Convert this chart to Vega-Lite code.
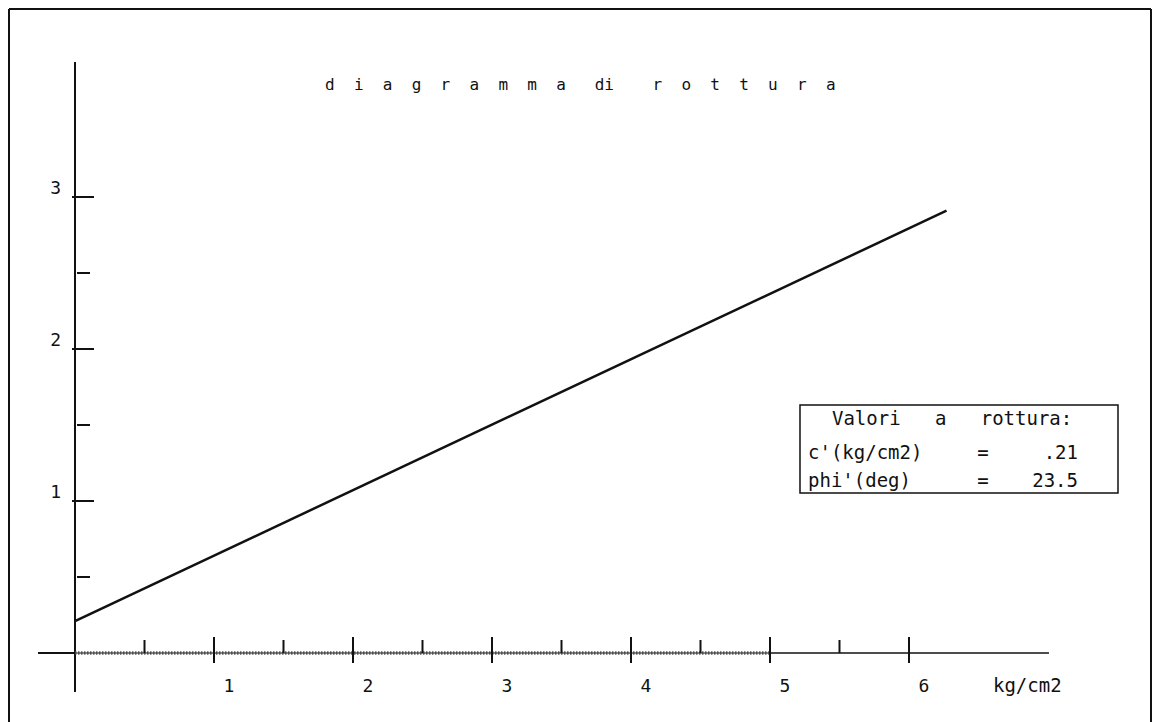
{
  "$schema": "https://vega.github.io/schema/vega-lite/v6.json",
  "width": 1160,
  "height": 722,
  "padding": 0,
  "autosize": {"type": "none"},
  "background": "#ffffff",
  "config": {
    "view": {"stroke": null},
    "text": {"font": "DejaVu Sans Mono", "fontSize": 18, "color": "#111111"},
    "rule": {"color": "#111111"},
    "tick": {"color": "#111111"},
    "line": {"color": "#111111"}
  },
  "datasets": {
    "ticks": [
      {"axis": "x", "kind": "minor", "v": 0.5, "label": ""},
      {"axis": "x", "kind": "major", "v": 1, "label": "1"},
      {"axis": "x", "kind": "minor", "v": 1.5, "label": ""},
      {"axis": "x", "kind": "major", "v": 2, "label": "2"},
      {"axis": "x", "kind": "minor", "v": 2.5, "label": ""},
      {"axis": "x", "kind": "major", "v": 3, "label": "3"},
      {"axis": "x", "kind": "minor", "v": 3.5, "label": ""},
      {"axis": "x", "kind": "major", "v": 4, "label": "4"},
      {"axis": "x", "kind": "minor", "v": 4.5, "label": ""},
      {"axis": "x", "kind": "major", "v": 5, "label": "5"},
      {"axis": "x", "kind": "minor", "v": 5.5, "label": ""},
      {"axis": "x", "kind": "major", "v": 6, "label": "6"},
      {"axis": "y", "kind": "minor", "v": 0.5, "label": ""},
      {"axis": "y", "kind": "major", "v": 1, "label": "1"},
      {"axis": "y", "kind": "minor", "v": 1.5, "label": ""},
      {"axis": "y", "kind": "major", "v": 2, "label": "2"},
      {"axis": "y", "kind": "minor", "v": 2.5, "label": ""},
      {"axis": "y", "kind": "major", "v": 3, "label": "3"}
    ],
    "envelope": [
      {"sigma": 0, "tau": 0.21},
      {"sigma": 6.27, "tau": 2.91}
    ]
  },
  "layer": [
    {
      "data": {"values": [{}]},
      "mark": {"type": "rule", "strokeWidth": 2},
      "encoding": {
        "x": {"datum": -0.4748, "type": "quantitative", "scale": {"domain": [-0.5396, 7.8058], "nice": false, "zero": false}, "axis": null},
        "y": {"datum": -0.454, "type": "quantitative", "scale": {"domain": [-0.454, 4.2961], "nice": false, "zero": false}, "axis": null},
        "y2": {"datum": 4.2368}
      }
    },
    {
      "data": {"values": [{}]},
      "mark": {"type": "rule", "strokeWidth": 2},
      "encoding": {
        "x": {"datum": -0.4748, "type": "quantitative", "scale": {"domain": [-0.5396, 7.8058], "nice": false, "zero": false}, "axis": null},
        "x2": {"datum": 7.7410},
        "y": {"datum": 4.2368, "type": "quantitative", "scale": {"domain": [-0.454, 4.2961], "nice": false, "zero": false}, "axis": null}
      }
    },
    {
      "data": {"values": [{}]},
      "mark": {"type": "rule", "strokeWidth": 2},
      "encoding": {
        "x": {"datum": 7.7410, "type": "quantitative", "scale": {"domain": [-0.5396, 7.8058], "nice": false, "zero": false}, "axis": null},
        "y": {"datum": -0.454, "type": "quantitative", "scale": {"domain": [-0.454, 4.2961], "nice": false, "zero": false}, "axis": null},
        "y2": {"datum": 4.2368}
      }
    },
    {
      "data": {"values": [{}]},
      "mark": {"type": "rule", "strokeWidth": 2},
      "encoding": {
        "x": {"datum": 0, "type": "quantitative", "scale": {"domain": [-0.5396, 7.8058], "nice": false, "zero": false}, "axis": null},
        "y": {"datum": -0.257, "type": "quantitative", "scale": {"domain": [-0.454, 4.2961], "nice": false, "zero": false}, "axis": null},
        "y2": {"datum": 3.888}
      }
    },
    {
      "data": {"values": [{}]},
      "mark": {"type": "rule", "strokeWidth": 2},
      "encoding": {
        "x": {"datum": -0.266, "type": "quantitative", "scale": {"domain": [-0.5396, 7.8058], "nice": false, "zero": false}, "axis": null},
        "x2": {"datum": 0},
        "y": {"datum": 0, "type": "quantitative", "scale": {"domain": [-0.454, 4.2961], "nice": false, "zero": false}, "axis": null}
      }
    },
    {
      "data": {"values": [{}]},
      "mark": {"type": "rule", "strokeWidth": 1.2},
      "encoding": {
        "x": {"datum": 0, "type": "quantitative", "scale": {"domain": [-0.5396, 7.8058], "nice": false, "zero": false}, "axis": null},
        "x2": {"datum": 5},
        "y": {"datum": 0, "type": "quantitative", "scale": {"domain": [-0.454, 4.2961], "nice": false, "zero": false}, "axis": null}
      }
    },
    {
      "data": {"values": [{}]},
      "mark": {"type": "rule", "strokeWidth": 3.5, "color": "#444444", "strokeDash": [1.5, 1.5], "opacity": 0.85},
      "encoding": {
        "x": {"datum": 0, "type": "quantitative", "scale": {"domain": [-0.5396, 7.8058], "nice": false, "zero": false}, "axis": null},
        "x2": {"datum": 5},
        "y": {"datum": 0, "type": "quantitative", "scale": {"domain": [-0.454, 4.2961], "nice": false, "zero": false}, "axis": null}
      }
    },
    {
      "data": {"values": [{}]},
      "mark": {"type": "rule", "strokeWidth": 1.5},
      "encoding": {
        "x": {"datum": 5, "type": "quantitative", "scale": {"domain": [-0.5396, 7.8058], "nice": false, "zero": false}, "axis": null},
        "x2": {"datum": 7.007},
        "y": {"datum": 0, "type": "quantitative", "scale": {"domain": [-0.454, 4.2961], "nice": false, "zero": false}, "axis": null}
      }
    },
    {
      "data": {"name": "ticks"},
      "transform": [{"filter": "datum.axis === 'x' && datum.kind === 'minor'"}],
      "mark": {"type": "tick", "orient": "vertical", "size": 13, "thickness": 2, "opacity": 1},
      "encoding": {
        "x": {"field": "v", "type": "quantitative", "scale": {"domain": [-0.5396, 7.8058], "nice": false, "zero": false}, "axis": null},
        "y": {"datum": 0.0428, "type": "quantitative", "scale": {"domain": [-0.454, 4.2961], "nice": false, "zero": false}, "axis": null}
      }
    },
    {
      "data": {"name": "ticks"},
      "transform": [{"filter": "datum.axis === 'x' && datum.kind === 'major'"}],
      "mark": {"type": "tick", "orient": "vertical", "size": 26, "thickness": 2, "opacity": 1},
      "encoding": {
        "x": {"field": "v", "type": "quantitative", "scale": {"domain": [-0.5396, 7.8058], "nice": false, "zero": false}, "axis": null},
        "y": {"datum": 0.0197, "type": "quantitative", "scale": {"domain": [-0.454, 4.2961], "nice": false, "zero": false}, "axis": null}
      }
    },
    {
      "data": {"name": "ticks"},
      "transform": [{"filter": "datum.axis === 'y' && datum.kind === 'minor'"}],
      "mark": {"type": "tick", "orient": "horizontal", "size": 13, "thickness": 2, "opacity": 1},
      "encoding": {
        "x": {"datum": 0.0612, "type": "quantitative", "scale": {"domain": [-0.5396, 7.8058], "nice": false, "zero": false}, "axis": null},
        "y": {"field": "v", "type": "quantitative", "scale": {"domain": [-0.454, 4.2961], "nice": false, "zero": false}, "axis": null}
      }
    },
    {
      "data": {"name": "ticks"},
      "transform": [{"filter": "datum.axis === 'y' && datum.kind === 'major'"}],
      "mark": {"type": "tick", "orient": "horizontal", "size": 22, "thickness": 2, "opacity": 1},
      "encoding": {
        "x": {"datum": 0.0576, "type": "quantitative", "scale": {"domain": [-0.5396, 7.8058], "nice": false, "zero": false}, "axis": null},
        "y": {"field": "v", "type": "quantitative", "scale": {"domain": [-0.454, 4.2961], "nice": false, "zero": false}, "axis": null}
      }
    },
    {
      "data": {"name": "ticks"},
      "transform": [{"filter": "datum.axis === 'x' && datum.kind === 'major'"}],
      "mark": {"type": "text", "align": "center", "baseline": "alphabetic", "dx": 15, "dy": 39},
      "encoding": {
        "x": {"field": "v", "type": "quantitative", "scale": {"domain": [-0.5396, 7.8058], "nice": false, "zero": false}, "axis": null},
        "y": {"datum": 0, "type": "quantitative", "scale": {"domain": [-0.454, 4.2961], "nice": false, "zero": false}, "axis": null},
        "text": {"field": "label"}
      }
    },
    {
      "data": {"name": "ticks"},
      "transform": [{"filter": "datum.axis === 'y' && datum.kind === 'major'"}],
      "mark": {"type": "text", "align": "right", "baseline": "alphabetic", "dx": -14, "dy": -3},
      "encoding": {
        "x": {"datum": 0, "type": "quantitative", "scale": {"domain": [-0.5396, 7.8058], "nice": false, "zero": false}, "axis": null},
        "y": {"field": "v", "type": "quantitative", "scale": {"domain": [-0.454, 4.2961], "nice": false, "zero": false}, "axis": null},
        "text": {"field": "label"}
      }
    },
    {
      "data": {"values": [{"unit": "kg/cm2"}]},
      "mark": {"type": "text", "align": "left", "baseline": "alphabetic", "fontSize": 19},
      "encoding": {
        "x": {"datum": 6.604, "type": "quantitative", "scale": {"domain": [-0.5396, 7.8058], "nice": false, "zero": false}, "axis": null},
        "y": {"datum": -0.2566, "type": "quantitative", "scale": {"domain": [-0.454, 4.2961], "nice": false, "zero": false}, "axis": null},
        "text": {"field": "unit"}
      }
    },
    {
      "data": {"name": "envelope"},
      "mark": {"type": "line", "strokeWidth": 2.5},
      "encoding": {
        "x": {"field": "sigma", "type": "quantitative", "scale": {"domain": [-0.5396, 7.8058], "nice": false, "zero": false}, "axis": null},
        "y": {"field": "tau", "type": "quantitative", "scale": {"domain": [-0.454, 4.2961], "nice": false, "zero": false}, "axis": null}
      }
    },
    {
      "data": {"values": [{"t": "d\u00a0\u00a0i\u00a0\u00a0a\u00a0\u00a0g\u00a0\u00a0r\u00a0\u00a0a\u00a0\u00a0m\u00a0\u00a0m\u00a0\u00a0a\u00a0\u00a0\u00a0di\u00a0\u00a0\u00a0\u00a0r\u00a0\u00a0o\u00a0\u00a0t\u00a0\u00a0t\u00a0\u00a0u\u00a0\u00a0r\u00a0\u00a0a"}]},
      "mark": {"type": "text", "align": "left", "baseline": "alphabetic", "fontSize": 16},
      "encoding": {
        "x": {"datum": 1.7986, "type": "quantitative", "scale": {"domain": [-0.5396, 7.8058], "nice": false, "zero": false}, "axis": null},
        "y": {"datum": 3.7039, "type": "quantitative", "scale": {"domain": [-0.454, 4.2961], "nice": false, "zero": false}, "axis": null},
        "text": {"field": "t"}
      }
    },
    {
      "data": {"values": [{}]},
      "mark": {"type": "rect", "fill": "#ffffff", "stroke": "#111111", "strokeWidth": 1.5},
      "encoding": {
        "x": {"datum": 5.2158, "type": "quantitative", "scale": {"domain": [-0.5396, 7.8058], "nice": false, "zero": false}, "axis": null},
        "x2": {"datum": 7.5036},
        "y": {"datum": 1.0526, "type": "quantitative", "scale": {"domain": [-0.454, 4.2961], "nice": false, "zero": false}, "axis": null},
        "y2": {"datum": 1.6316}
      }
    },
    {
      "data": {"values": [{"h": "Valori\u00a0\u00a0\u00a0a\u00a0\u00a0\u00a0rottura:"}]},
      "mark": {"type": "text", "align": "left", "baseline": "alphabetic", "fontSize": 19},
      "encoding": {
        "x": {"datum": 5.446, "type": "quantitative", "scale": {"domain": [-0.5396, 7.8058], "nice": false, "zero": false}, "axis": null},
        "y": {"datum": 1.5, "type": "quantitative", "scale": {"domain": [-0.454, 4.2961], "nice": false, "zero": false}, "axis": null},
        "text": {"field": "h"}
      }
    },
    {
      "data": {"values": [{"name": "c'(kg/cm2)", "eq": "=", "value": ".21"}]},
      "encoding": {
        "y": {"datum": 1.2763, "type": "quantitative", "scale": {"domain": [-0.454, 4.2961], "nice": false, "zero": false}, "axis": null}
      },
      "layer": [
        {
          "mark": {"type": "text", "align": "left", "baseline": "alphabetic", "fontSize": 19},
          "encoding": {
            "x": {"datum": 5.2734, "type": "quantitative", "scale": {"domain": [-0.5396, 7.8058], "nice": false, "zero": false}, "axis": null},
            "text": {"field": "name"}
          }
        },
        {
          "mark": {"type": "text", "align": "center", "baseline": "alphabetic", "fontSize": 19},
          "encoding": {
            "x": {"datum": 6.532, "type": "quantitative", "scale": {"domain": [-0.5396, 7.8058], "nice": false, "zero": false}, "axis": null},
            "text": {"field": "eq"}
          }
        },
        {
          "mark": {"type": "text", "align": "right", "baseline": "alphabetic", "fontSize": 19},
          "encoding": {
            "x": {"datum": 7.2158, "type": "quantitative", "scale": {"domain": [-0.5396, 7.8058], "nice": false, "zero": false}, "axis": null},
            "text": {"field": "value"}
          }
        }
      ]
    },
    {
      "data": {"values": [{"name": "phi'(deg)", "eq": "=", "value": "23.5"}]},
      "encoding": {
        "y": {"datum": 1.0921, "type": "quantitative", "scale": {"domain": [-0.454, 4.2961], "nice": false, "zero": false}, "axis": null}
      },
      "layer": [
        {
          "mark": {"type": "text", "align": "left", "baseline": "alphabetic", "fontSize": 19},
          "encoding": {
            "x": {"datum": 5.2734, "type": "quantitative", "scale": {"domain": [-0.5396, 7.8058], "nice": false, "zero": false}, "axis": null},
            "text": {"field": "name"}
          }
        },
        {
          "mark": {"type": "text", "align": "center", "baseline": "alphabetic", "fontSize": 19},
          "encoding": {
            "x": {"datum": 6.532, "type": "quantitative", "scale": {"domain": [-0.5396, 7.8058], "nice": false, "zero": false}, "axis": null},
            "text": {"field": "eq"}
          }
        },
        {
          "mark": {"type": "text", "align": "right", "baseline": "alphabetic", "fontSize": 19},
          "encoding": {
            "x": {"datum": 7.2158, "type": "quantitative", "scale": {"domain": [-0.5396, 7.8058], "nice": false, "zero": false}, "axis": null},
            "text": {"field": "value"}
          }
        }
      ]
    }
  ]
}
